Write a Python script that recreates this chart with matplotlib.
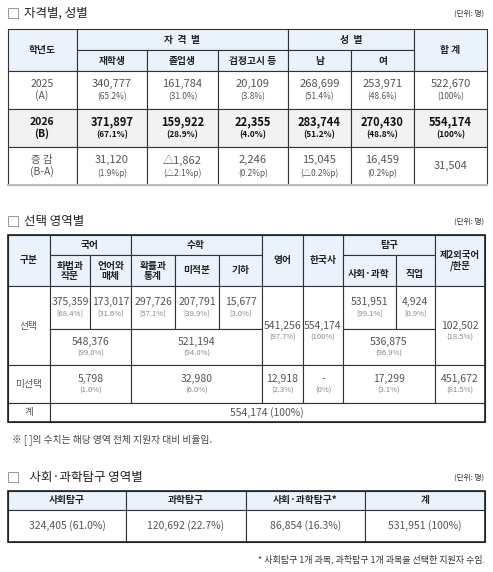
import matplotlib.pyplot as plt
from matplotlib.patches import Rectangle

plt.rcParams['font.family'] = ['Noto Sans CJK KR', 'DejaVu Sans']

# table 1 data
t1_years = ['2025\n(A)', '2026\n(B)', '증 감\n(B-A)']
t1_counts = [
    ['340,777', '161,784', '20,109', '268,699', '253,971', '522,670'],
    ['371,897', '159,922', '22,355', '283,744', '270,430', '554,174'],
    ['31,120', '△1,862', '2,246', '15,045', '16,459', '31,504'],
]
t1_pcts = [
    ['(65.2%)', '(31.0%)', '(3.8%)', '(51.4%)', '(48.6%)', '(100%)'],
    ['(67.1%)', '(28.9%)', '(4.0%)', '(51.2%)', '(48.8%)', '(100%)'],
    ['(1.9%p)', '(△2.1%p)', '(0.2%p)', '(△0.2%p)', '(0.2%p)', ''],
]
t1_sub = ['재학생', '졸업생', '검정고시 등', '남', '여']

# table 2 data
t2_sub = ['화법과\n작문', '언어와\n매체', '확률과\n통계', '미적분', '기하']
t2_sel_detail = ['375,359', '173,017', '297,726', '207,791', '15,677', '531,951', '4,924']
t2_sel_detail_pct = ['[68.4%]', '[31.6%]', '[57.1%]', '[39.9%]', '[3.0%]', '[99.1%]', '[0.9%]']
t2_sel_total = ['548,376', '521,194', '541,256', '554,174', '536,875', '102,502']
t2_sel_total_pct = ['(99.0%)', '(94.0%)', '(97.7%)', '(100%)', '(96.9%)', '(18.5%)']
t2_unsel = ['5,798', '32,980', '12,918', '-', '17,299', '451,672']
t2_unsel_pct = ['(1.0%)', '(6.0%)', '(2.3%)', '(0%)', '(3.1%)', '(81.5%)']

# table 3 data
t3_head = ['사회탐구', '과학탐구', '사회·과학탐구*', '계']
t3_vals = ['324,405', '120,692', '86,854', '531,951']
t3_pcts = ['(61.0%)', '(22.7%)', '(16.3%)', '(100%)']

HEAD = '#eaf3fc'
GRAY = '#f2f2f2'
TXT = '#555555'

fig = plt.figure(figsize=(4.93, 5.72), dpi=100)
ax = fig.add_axes([0, 0, 1, 1])
ax.set_xlim(0, 493)
ax.set_ylim(572, 0)
ax.axis('off')


def cell(x0, y0, x1, y1, fc='white', lw=0.8):
    ax.add_patch(Rectangle((x0, y0), x1 - x0, y1 - y0, fc=fc, ec='#333333', lw=lw))


def txt(x, y, s, size=7, color=TXT, weight='normal', ha='center', ls=1.0):
    ax.text(x, y, s, fontsize=size, color=color, weight=weight, ha=ha, va='center',
            linespacing=ls)


def title(y, s):
    ax.add_patch(Rectangle((8, y - 5), 10, 10, fc='white', ec='#999999', lw=0.7))
    txt(24, y, s, size=9, color='#222222', ha='left')
    txt(484, y + 1, '(단위: 명)', size=5.5, color='#333333', ha='right')


# ---------- table 1 ----------
title(13, '자격별, 성별')
xs = [8, 77, 147, 218, 288, 351, 414, 487]
ys = [29, 71, 109, 147, 185]
cell(8, 29, 77, 71, HEAD)
cell(77, 29, 288, 50, HEAD)
cell(288, 29, 414, 50, HEAD)
cell(414, 29, 487, 71, HEAD)
for i in range(5):
    cell(xs[i + 1], 50, xs[i + 2], 71, HEAD)
    txt((xs[i + 1] + xs[i + 2]) / 2, 61, t1_sub[i], weight='bold', color='#222222')
txt(42, 50, '학년도', weight='bold', color='#222222')
txt(182, 40, '자  격  별', weight='bold', color='#222222')
txt(351, 40, '성  별', weight='bold', color='#222222')
txt(450, 50, '합 계', weight='bold', color='#222222')
for r in range(3):
    y0, y1 = ys[r + 1], ys[r + 2]
    bold = r == 1
    fc = GRAY if bold else 'white'
    col = '#111111' if bold else TXT
    w = 'bold' if bold else 'normal'
    cell(8, y0, 77, y1, fc)
    txt(42, (y0 + y1) / 2, t1_years[r], size=7.5, color=col, weight=w, ls=1.1)
    for c in range(6):
        cell(xs[c + 1], y0, xs[c + 2], y1, fc)
        xm = (xs[c + 1] + xs[c + 2]) / 2
        if t1_pcts[r][c]:
            txt(xm, (y0 + y1) / 2 - 6, t1_counts[r][c], size=8, color=col, weight=w)
            txt(xm, (y0 + y1) / 2 + 7, t1_pcts[r][c], size=6, color=col, weight=w)
        else:
            txt(xm, (y0 + y1) / 2, t1_counts[r][c], size=8, color=col, weight=w)
ax.plot([8, 487], [185, 185], color='#bbbbbb', lw=1.5)

# ---------- table 2 ----------
title(221, '선택 영역별')
cx = [8, 50, 90, 131, 175, 219, 262, 303, 343, 396, 435, 485]
top, mid, hb, inner, selb, unb, bot = 235, 255, 286, 329, 365, 403, 422
cell(8, top, 50, hb, HEAD)
txt(29, (top + hb) / 2, '구분', weight='bold', color='#222222')
cell(50, top, 131, mid, HEAD)
txt(90, 245, '국어', weight='bold', color='#222222')
cell(131, top, 262, mid, HEAD)
txt(196, 245, '수학', weight='bold', color='#222222')
cell(343, top, 435, mid, HEAD)
txt(389, 245, '탐구', weight='bold', color='#222222')
for i, s in enumerate(t2_sub):
    cell(cx[i + 1], mid, cx[i + 2], hb, HEAD)
    txt((cx[i + 1] + cx[i + 2]) / 2, (mid + hb) / 2, s, weight='bold', color='#222222', ls=1.0)
cell(262, top, 303, hb, HEAD)
txt(282, (top + hb) / 2, '영어', weight='bold', color='#222222')
cell(303, top, 343, hb, HEAD)
txt(323, (top + hb) / 2, '한국사', weight='bold', color='#222222')
cell(343, mid, 396, hb, HEAD)
txt(369, (mid + hb) / 2 + 3, '사회·과학', weight='bold', color='#222222')
cell(396, mid, 435, hb, HEAD)
txt(415, (mid + hb) / 2 + 3, '직업', weight='bold', color='#222222')
cell(435, top, 485, hb, HEAD)
txt(460, (top + hb) / 2, '제2외국어\n/한문', weight='bold', color='#222222', size=6.8)

# selected rows
cell(8, hb, 50, selb)
txt(29, (hb + selb) / 2, '선택')
detail_cols = [(50, 90), (90, 131), (131, 175), (175, 219), (219, 262), (343, 396), (396, 435)]
for (x0, x1), v, p in zip(detail_cols, t2_sel_detail, t2_sel_detail_pct):
    cell(x0, hb, x1, inner)
    txt((x0 + x1) / 2, 302, v, size=7.5)
    txt((x0 + x1) / 2, 313, p, size=5.5, color='#888888')
total_cols = [(50, 131, inner), (131, 262, inner), (262, 303, hb), (303, 343, hb),
              (343, 435, inner), (435, 485, hb)]
for (x0, x1, y0), v, p in zip(total_cols, t2_sel_total, t2_sel_total_pct):
    cell(x0, y0, x1, selb)
    ym = (y0 + selb) / 2 + (0 if y0 == inner else 5)
    txt((x0 + x1) / 2, ym - 5, v, size=7.5)
    txt((x0 + x1) / 2, ym + 7, p, size=5.5, color='#888888')

# unselected row
cell(8, selb, 50, unb)
txt(29, (selb + unb) / 2, '미선택')
un_cols = [(50, 131), (131, 262), (262, 303), (303, 343), (343, 435), (435, 485)]
for (x0, x1), v, p in zip(un_cols, t2_unsel, t2_unsel_pct):
    cell(x0, selb, x1, unb)
    txt((x0 + x1) / 2, (selb + unb) / 2 - 5, v, size=7.5)
    txt((x0 + x1) / 2, (selb + unb) / 2 + 7, p, size=5.5, color='#888888')

cell(8, unb, 50, bot)
txt(29, (unb + bot) / 2, '계')
cell(50, unb, 485, bot)
txt(267, (unb + bot) / 2, '554,174 (100%)', size=7.5)
ax.add_patch(Rectangle((8, top), 477, bot - top, fill=False, ec='#222222', lw=1.2))
txt(12, 440, '※ [ ]의 수치는 해당 영역 전체 지원자 대비 비율임.', size=7, color='#444444', ha='left')

# ---------- table 3 ----------
title(477, '  사회·과학탐구 영역별')
tx = [8, 126, 246, 365, 485]
for i in range(4):
    cell(tx[i], 491, tx[i + 1], 510, HEAD)
    txt((tx[i] + tx[i + 1]) / 2, 500.5, t3_head[i], weight='bold', color='#222222')
    cell(tx[i], 510, tx[i + 1], 542)
    txt((tx[i] + tx[i + 1]) / 2, 526, t3_vals[i] + ' ' + t3_pcts[i], size=7.5)
ax.add_patch(Rectangle((8, 491), 477, 51, fill=False, ec='#222222', lw=1.2))
txt(485, 559, '* 사회탐구 1개 과목, 과학탐구 1개 과목을 선택한 지원자 수임.', size=6.5,
    color='#333333', ha='right')

fig.savefig('out.png', dpi=100)
